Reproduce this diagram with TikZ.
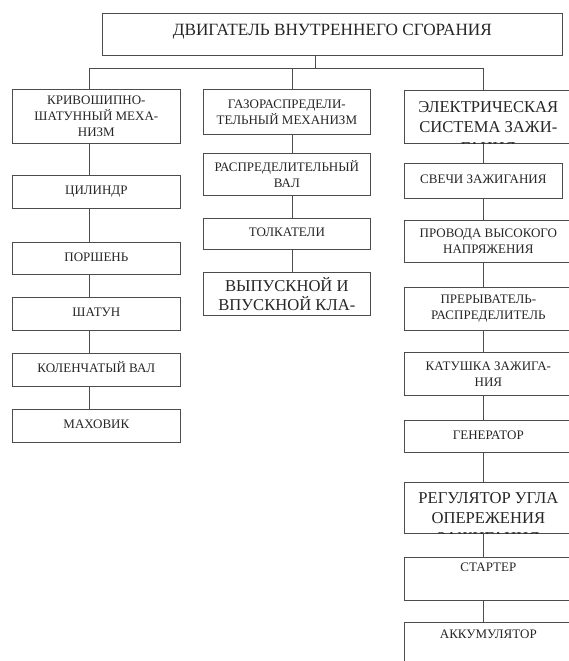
\documentclass[tikz,border=0pt]{standalone}
\usepackage{fontspec}
\setmainfont{Liberation Serif}
\usetikzlibrary{positioning}

\tikzset{
  blk/.style={draw=black!70, line width=0.7pt, rectangle, anchor=north west, align=center,
    inner sep=1pt, text=black!85, font=\fontsize{13}{16}\selectfont},
  oneline/.style={blk, text height=9pt, text depth=3.5pt},
  bigblk/.style={blk, font=\fontsize{16.6}{19.5}\selectfont},
  tailtxt/.style={anchor=base, inner sep=0pt, text=black!85, font=\fontsize{16.6}{19.5}\selectfont},
  link/.style={draw=black!70, line width=0.7pt},
}

\begin{document}
\begin{tikzpicture}[x=1pt, y=-1pt]
  \useasboundingbox[fill=white] (0,0) rectangle (569,661);

  % main block
  \node[blk, font=\fontsize{17.2}{20}\selectfont, minimum width=460pt, minimum height=42pt,
    text height=12pt, text depth=9pt] (title) at (102,13) {ДВИГАТЕЛЬ ВНУТРЕННЕГО СГОРАНИЯ};

  % left column
  \node[blk, minimum width=168pt, minimum height=54pt] (krivo) at (12,89) {КРИВОШИПНО-\\ШАТУННЫЙ МЕХА-\\НИЗМ};
  \node[oneline, minimum width=168pt, minimum height=33pt] (cil) at (12,175) {ЦИЛИНДР};
  \node[oneline, minimum width=168pt, minimum height=32pt] (porsh) at (12,242) {ПОРШЕНЬ};
  \node[oneline, minimum width=168pt, minimum height=33pt] (shatun) at (12,297) {ШАТУН};
  \node[oneline, minimum width=168pt, minimum height=33pt] (kolen) at (12,353) {КОЛЕНЧАТЫЙ ВАЛ};
  \node[oneline, minimum width=168pt, minimum height=33pt] (mahov) at (12,409) {МАХОВИК};

  % middle column
  \node[blk, minimum width=167pt, minimum height=45pt] (gazo) at (203,89) {ГАЗОРАСПРЕДЕЛИ-\\ТЕЛЬНЫЙ МЕХАНИЗМ};
  \node[blk, minimum width=167pt, minimum height=42pt] (raspval) at (203,153) {РАСПРЕДЕЛИТЕЛЬНЫЙ\\ВАЛ};
  \node[oneline, minimum width=167pt, minimum height=31pt] (tolk) at (203,218) {ТОЛКАТЕЛИ};
  \node[bigblk, minimum width=167pt, minimum height=43pt] (vypusk) at (203,272) {ВЫПУСКНОЙ И\\ВПУСКНОЙ КЛА-};

  % right column
  \node[bigblk, minimum width=168pt, minimum height=53pt] (elek) at (404,90) {ЭЛЕКТРИЧЕСКАЯ\\СИСТЕМА ЗАЖИ-};
  \node[oneline, minimum width=158pt, minimum height=35pt] (svechi) at (404,163) {СВЕЧИ ЗАЖИГАНИЯ};
  \node[blk, minimum width=168pt, minimum height=42pt] (provoda) at (404,220) {ПРОВОДА ВЫСОКОГО\\НАПРЯЖЕНИЯ};
  \node[blk, minimum width=168pt, minimum height=43pt] (preryv) at (404,287) {ПРЕРЫВАТЕЛЬ-\\РАСПРЕДЕЛИТЕЛЬ};
  \node[blk, minimum width=168pt, minimum height=43pt] (katush) at (404,352) {КАТУШКА ЗАЖИГА-\\НИЯ};
  \node[oneline, minimum width=168pt, minimum height=32pt] (gener) at (404,420) {ГЕНЕРАТОР};
  \node[bigblk, minimum width=168pt, minimum height=51pt] (regul) at (404,482) {РЕГУЛЯТОР УГЛА\\ОПЕРЕЖЕНИЯ};
  \node[oneline, minimum width=168pt, minimum height=43pt, text depth=23pt] (starter) at (404,557) {СТАРТЕР};
  \node[oneline, minimum width=168pt, minimum height=60pt, text depth=37pt] (akkum) at (404,622) {АККУМУЛЯТОР};

  % cut-off last lines
  \begin{scope}
    \clip (elek.north west) rectangle (elek.south east);
    \node[tailtxt] (elektail) at ([yshift=-9.5pt]elek.south) {ГАНИЯ};
  \end{scope}
  \begin{scope}
    \clip (regul.north west) rectangle (regul.south east);
    \node[tailtxt] (regultail) at ([yshift=-9.5pt]regul.south) {ЗАЖИГАНИЯ};
  \end{scope}

  % connectors
  \coordinate (hub) at (315,68);
  \coordinate (lbus) at (89,68);
  \coordinate (mbus) at (292,68);
  \coordinate (rbus) at (483,68);
  \draw[link] (title.south -| hub) -- (hub);
  \draw[link] (lbus) -- (rbus);
  \draw[link] (lbus) -- (lbus |- krivo.north);
  \draw[link] (mbus) -- (mbus |- gazo.north);
  \draw[link] (rbus) -- (rbus |- elek.north);
  \foreach \a/\b in {krivo/cil, cil/porsh, porsh/shatun, shatun/kolen, kolen/mahov}
    \draw[link] (\a.south -| lbus) -- (\b.north -| lbus);
  \foreach \a/\b in {gazo/raspval, raspval/tolk, tolk/vypusk}
    \draw[link] (\a.south -| mbus) -- (\b.north -| mbus);
  \foreach \a/\b in {elek/svechi, svechi/provoda, provoda/preryv, preryv/katush,
                     katush/gener, gener/regul, regul/starter, starter/akkum}
    \draw[link] (\a.south -| rbus) -- (\b.north -| rbus);
\end{tikzpicture}
\end{document}
